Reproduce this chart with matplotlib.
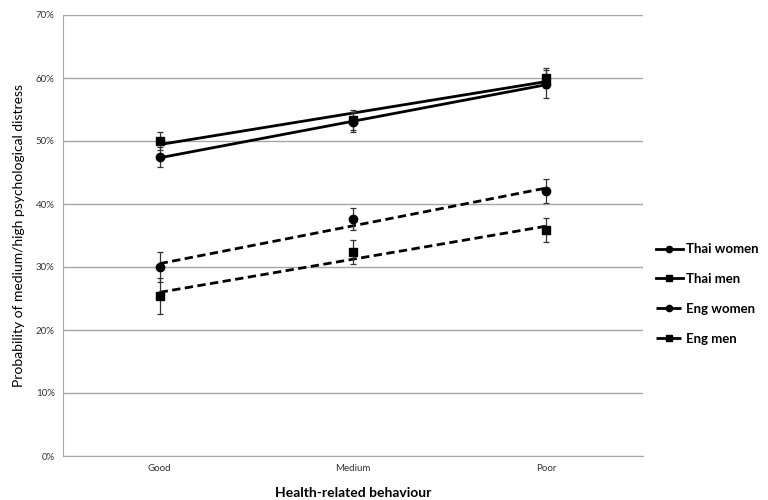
import numpy as np
import matplotlib.pyplot as plt
from matplotlib.lines import Line2D
from matplotlib.ticker import PercentFormatter

plt.rcParams["font.family"] = ["Lato", "DejaVu Sans"]

categories = ["Good", "Medium", "Poor"]

thai_women = [47.4, 53.0, 59.0]
thai_women_err = [1.6, 1.6, 2.2]
thai_men = [50.0, 53.3, 60.0]
thai_men_err = [1.4, 1.6, 1.6]
eng_women = [30.0, 37.6, 42.0]
eng_women_err = [2.4, 1.7, 1.9]
eng_men = [25.4, 32.4, 35.9]
eng_men_err = [2.9, 1.9, 1.9]

series = [
    ("Thai women", thai_women, thai_women_err, "o", "-"),
    ("Thai men", thai_men, thai_men_err, "s", "-"),
    ("Eng women", eng_women, eng_women_err, "o", "--"),
    ("Eng men", eng_men, eng_men_err, "s", "--"),
]

fig = plt.figure(figsize=(7.68, 5.0), dpi=100)
ax = fig.add_axes([0.082, 0.088, 0.755, 0.882])

x = np.arange(len(categories)) + 0.5
handles = []
for label, vals, errs, marker, ls in series:
    ax.errorbar(x, vals, yerr=errs, fmt=marker, color="black", markersize=6,
                ecolor="#333333", elinewidth=0.9, capsize=2.5, capthick=0.9, zorder=3)
    # linear trend line through the three points
    slope, icpt = np.polyfit(x, vals, 1)
    ax.plot(x, slope * x + icpt, color="black", lw=2, ls=ls,
            dashes=(3, 1.6) if ls == "--" else (None, None), zorder=2)
    handles.append(Line2D([], [], color="black", lw=2, ls=ls, marker=marker,
                          markersize=4.5, label=label))

ax.set_xlim(0, 3)
ax.set_ylim(0, 70)
ax.set_xticks(x)
ax.set_xticklabels(categories)
ax.set_yticks(np.arange(0, 71, 10))
ax.yaxis.set_major_formatter(PercentFormatter(decimals=0))
ax.tick_params(axis="both", length=0, labelsize=7, colors="#333333", pad=6)
ax.grid(axis="y", color="#a6a6a6", lw=1)
ax.set_axisbelow(True)
for side in ["top", "right"]:
    ax.spines[side].set_visible(False)
for side in ["left", "bottom"]:
    ax.spines[side].set_color("#a6a6a6")

ax.set_xlabel("Health-related behaviour", fontsize=10, fontweight="bold", labelpad=10)
ax.set_ylabel("Probability of medium/high psychological distress", fontsize=10, labelpad=8)

leg = fig.legend(handles=handles, loc="center left", bbox_to_anchor=(0.851, 0.412),
                 frameon=False, handlelength=2.0, handletextpad=0.25,
                 borderaxespad=0, borderpad=0.2,
                 labelspacing=1.35, prop={"weight": "bold", "size": 9.5})

fig.savefig("out.png", dpi=100)
